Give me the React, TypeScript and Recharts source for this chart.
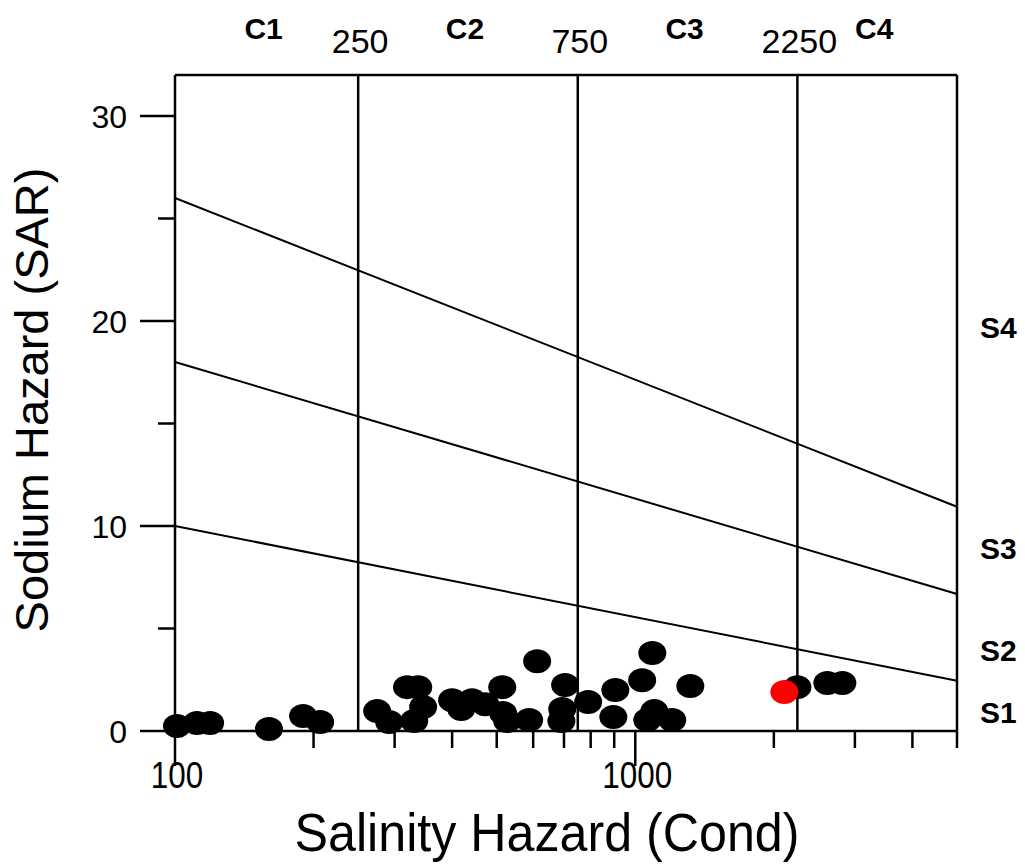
import React from 'react';
import { ScatterChart, Scatter, XAxis, YAxis, ReferenceLine } from 'recharts';

// Salinity (conductivity) and SAR of the samples
const condBlack = [101, 111.6, 119.2, 160, 189.8, 206.7, 274.9, 291.9, 319.3, 337.6, 346, 330.9, 400, 418.7, 442, 472, 514, 516, 527, 588, 612, 704, 694, 691, 790, 905, 896, 1035, 1089, 1062, 1100, 1203, 1317, 2250, 2614, 2818];
const sarBlack = [0.24, 0.39, 0.39, 0.1, 0.73, 0.44, 0.97, 0.44, 2.14, 2.14, 1.17, 0.49, 1.5, 1.07, 1.5, 1.3, 2.14, 0.88, 0.49, 0.54, 3.4, 2.24, 1.07, 0.49, 1.41, 2.0, 0.68, 2.48, 3.8, 0.54, 0.97, 0.54, 2.19, 2.14, 2.34, 2.34];
const condRed = [2108];
const sarRed = [1.9];

// class boundaries
const salinityBounds = [250, 750, 2250];
const salinityClasses = ['C1', 'C2', 'C3', 'C4'];
const sodiumClasses = ['S1', 'S2', 'S3', 'S4'];
const sodiumLabelAt = [0.93, 3.95, 8.9, 19.7];
const sLineStartSar = [10, 18, 26]; // at cond 100
const sLineEndSar = [2.45, 6.68, 10.94]; // at cond 5000

const xDomain = [100, 5000];
const yDomain = [0, 32];
const xTicks = [100, 200, 300, 400, 500, 600, 700, 800, 900, 1000, 2000, 3000, 4000, 5000];
const xLabelTicks = [100, 1000];
const yTicks = [0, 5, 10, 15, 20, 25, 30];
const yLabelTicks = [0, 10, 20, 30];

const blackData = condBlack.map((c, i) => ({ cond: c, sar: sarBlack[i] }));
const redData = condRed.map((c, i) => ({ cond: c, sar: sarRed[i] }));

// top-axis ticks: class boundaries and class centers (geometric means)
const edges = [xDomain[0], ...salinityBounds, xDomain[1]];
const classCenters = salinityClasses.map((_, i) => Math.sqrt(edges[i] * edges[i + 1]));
const topTicks = [...classCenters, ...salinityBounds].sort((a, b) => a - b);
const topLabel = (v: number) => {
  const ci = classCenters.indexOf(v);
  if (ci >= 0) return salinityClasses[ci];
  return String(v);
};

const FONT = "'Liberation Sans', Arial, Helvetica, sans-serif";

const XTick = (props: any) => {
  const { x, y, payload } = props;
  const v = payload.value;
  const major = xLabelTicks.includes(v);
  const tx = x + 2;
  return (
    <g>
      <line x1={x} x2={x} y1={y} y2={y + (major ? 35 : 17)} stroke="#000" strokeWidth={2.5} />
      {major && (
        <text
          x={tx}
          y={y + 57}
          textAnchor="middle"
          fontSize={37}
          fontFamily={FONT}
          fill="#000"
          transform={`translate(${tx} 0) scale(0.85 1) translate(${-tx} 0)`}
        >
          {v}
        </text>
      )}
    </g>
  );
};

const YTick = (props: any) => {
  const { x, y, payload } = props;
  const v = payload.value;
  const major = yLabelTicks.includes(v);
  return (
    <g>
      <line x1={x - (major ? 35 : 17)} x2={x} y1={y} y2={y} stroke="#000" strokeWidth={2.5} />
      {major && (
        <text x={x - 48} y={y} dy="0.36em" textAnchor="end" fontSize={32} fontFamily={FONT} fill="#000">
          {v}
        </text>
      )}
    </g>
  );
};

const TopTick = (props: any) => {
  const { x, payload } = props;
  const v = payload.value;
  const isClass = classCenters.indexOf(v) >= 0;
  return isClass ? (
    <text x={x - 3} y={39} textAnchor="middle" fontSize={30} fontWeight="bold" fontFamily={FONT} fill="#000">
      {topLabel(v)}
    </text>
  ) : (
    <text x={x + 2} y={53} textAnchor="middle" fontSize={34} fontFamily={FONT} fill="#000">
      {topLabel(v)}
    </text>
  );
};

const RightTick = (props: any) => {
  const { y, payload } = props;
  const i = sodiumLabelAt.indexOf(payload.value);
  return (
    <text x={980} y={y} dy="0.36em" textAnchor="start" fontSize={30} fontWeight="bold" fontFamily={FONT} fill="#000">
      {sodiumClasses[i]}
    </text>
  );
};

const Dot = (fill: string) => (props: any) => {
  const { cx, cy } = props;
  if (cx == null || cy == null) return null;
  return <ellipse cx={cx} cy={cy} rx={14} ry={12} fill={fill} />;
};

export default function App() {
  return (
    <div style={{ position: 'absolute', left: 0, top: 0, width: 1025, height: 864, background: '#fff' }}>
      <ScatterChart width={1025} height={864} margin={{ top: 0, right: 0, bottom: 0, left: 0 }}>
        <XAxis
          xAxisId="bottom"
          dataKey="cond"
          type="number"
          scale="log"
          domain={xDomain}
          ticks={xTicks}
          interval={0}
          tickSize={0}
          tickMargin={0}
          height={133}
          tick={<XTick />}
          axisLine={{ stroke: '#000', strokeWidth: 2.5 }}
          tickLine={false}
          label={{
            content: () => (
              <text
                x={547}
                y={851}
                textAnchor="middle"
                fontSize={54}
                fontFamily={FONT}
                fill="#000"
                textLength={505}
                lengthAdjust="spacingAndGlyphs"
              >
                Salinity Hazard (Cond)
              </text>
            ),
          }}
        />
        <XAxis
          xAxisId="top"
          orientation="top"
          dataKey="cond"
          type="number"
          scale="log"
          domain={xDomain}
          allowDataOverflow
          ticks={topTicks}
          interval={0}
          tickSize={0}
          tickMargin={0}
          height={75}
          tick={<TopTick />}
          axisLine={{ stroke: '#000', strokeWidth: 2.5 }}
          tickLine={false}
        />
        <YAxis
          yAxisId="left"
          dataKey="sar"
          type="number"
          domain={yDomain}
          ticks={yTicks}
          interval={0}
          tickSize={0}
          tickMargin={0}
          width={175}
          tick={<YTick />}
          axisLine={{ stroke: '#000', strokeWidth: 2.5 }}
          tickLine={false}
          label={{
            content: () => (
              <text
                x={48}
                y={400}
                transform="rotate(-90 48 400)"
                textAnchor="middle"
                fontSize={47}
                fontFamily={FONT}
                fill="#000"
              >
                Sodium Hazard (SAR)
              </text>
            ),
          }}
        />
        <YAxis
          yAxisId="right"
          orientation="right"
          type="number"
          domain={yDomain}
          allowDataOverflow
          ticks={sodiumLabelAt}
          interval={0}
          tickSize={0}
          tickMargin={0}
          width={68}
          tick={<RightTick />}
          axisLine={{ stroke: '#000', strokeWidth: 2.5 }}
          tickLine={false}
        />
        {salinityBounds.map((b) => (
          <ReferenceLine key={b} x={b} xAxisId="bottom" yAxisId="left" stroke="#000" strokeWidth={2.5} />
        ))}
        {sLineStartSar.map((s, i) => (
          <ReferenceLine
            key={'s' + i}
            xAxisId="bottom"
            yAxisId="left"
            segment={[
              { x: xDomain[0], y: s },
              { x: xDomain[1], y: sLineEndSar[i] },
            ]}
            stroke="#000"
            strokeWidth={2}
          />
        ))}
        <Scatter data={blackData} xAxisId="bottom" yAxisId="left" shape={Dot('#000')} isAnimationActive={false} />
        <Scatter data={redData} xAxisId="bottom" yAxisId="left" shape={Dot('#ff0000')} isAnimationActive={false} />
      </ScatterChart>
    </div>
  );
}
